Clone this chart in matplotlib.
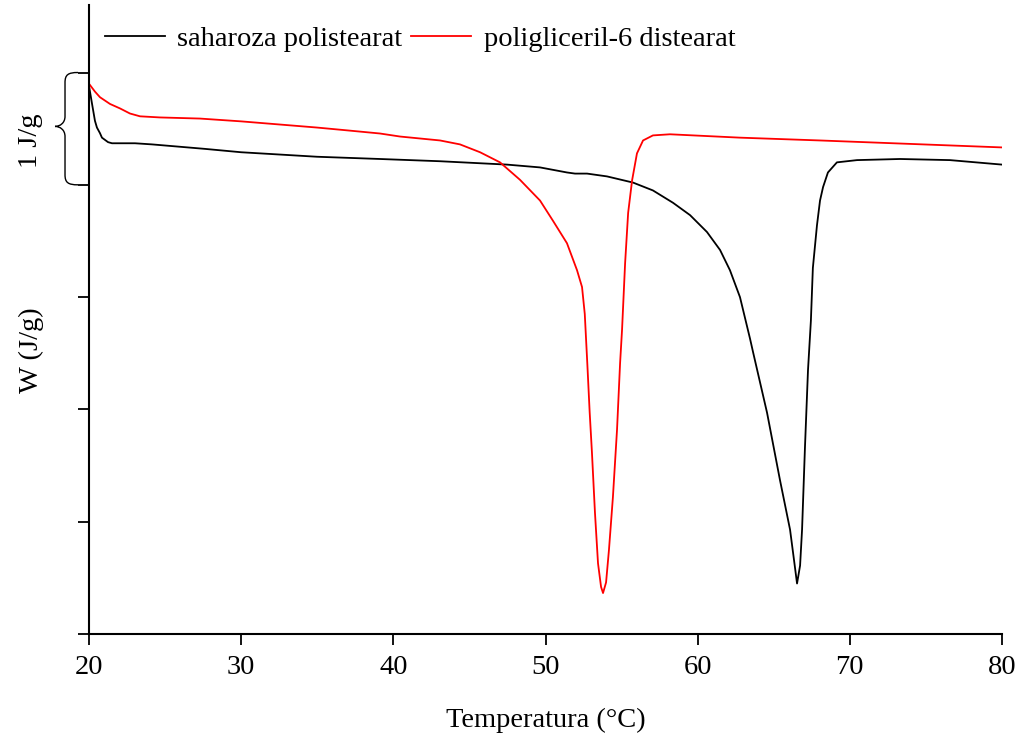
import matplotlib.pyplot as plt
import matplotlib.transforms as mtransforms
from matplotlib.path import Path
from matplotlib.patches import PathPatch

plt.rcParams['font.family'] = ['Liberation Serif', 'DejaVu Serif']

# saharoza polistearat (black)
t_sah = [20.0, 20.20, 20.39, 20.52, 20.72, 20.85, 21.05, 21.25, 21.51, 23.02,
         24.14, 27.62, 30.0, 34.98, 39.12, 43.07, 47.47, 49.64, 51.41, 51.94,
         52.73, 54.04, 55.75, 57.06, 58.38, 59.50, 60.61, 61.47, 62.12, 62.78,
         63.44, 63.64, 64.56, 65.41, 66.07, 66.33, 66.53, 66.73, 66.86, 67.05,
         67.25, 67.44, 67.57, 67.84, 68.04, 68.24, 68.56, 69.15, 70.47, 73.3,
         76.58, 80.0]
w_sah = [4.88, 4.72, 4.57, 4.51, 4.46, 4.42, 4.40, 4.38, 4.37, 4.37,
         4.36, 4.32, 4.29, 4.25, 4.23, 4.21, 4.18, 4.155, 4.11, 4.10,
         4.10, 4.075, 4.02, 3.95, 3.84, 3.73, 3.58, 3.42, 3.24, 3.00,
         2.63, 2.51, 1.97, 1.37, 0.93, 0.66, 0.45, 0.61, 0.93, 1.66,
         2.35, 2.79, 3.26, 3.64, 3.86, 3.98, 4.11, 4.20, 4.22, 4.23,
         4.22, 4.18]

# poligliceril-6 distearat (red)
t_pg = [20.0, 20.39, 20.72, 21.38, 22.04, 22.69, 23.35, 24.66, 27.29, 30.0,
        34.98, 36.95, 39.12, 40.44, 43.07, 44.38, 45.70, 47.01, 48.32, 49.64,
        50.49, 51.41, 52.07, 52.40, 52.58, 52.75, 52.90, 53.05, 53.25, 53.45,
        53.65, 53.78, 53.98, 54.17, 54.43, 54.70, 54.90, 55.03, 55.23, 55.43,
        55.69, 56.01, 56.41, 57.06, 58.18, 62.78, 68.04, 80.0]
w_pg = [4.90, 4.83, 4.78, 4.72, 4.68, 4.635, 4.61, 4.60, 4.59, 4.565,
        4.51, 4.485, 4.457, 4.43, 4.395, 4.36, 4.29, 4.20, 4.045, 3.86,
        3.68, 3.48, 3.24, 3.09, 2.85, 2.40, 1.98, 1.62, 1.08, 0.63,
        0.42, 0.365, 0.46, 0.75, 1.22, 1.82, 2.41, 2.71, 3.30, 3.75,
        4.04, 4.28, 4.395, 4.44, 4.45, 4.42, 4.395, 4.333]

labels = ['saharoza polistearat', 'poligliceril-6 distearat']

fig = plt.figure(figsize=(10.15, 7.33), dpi=100)
ax = fig.add_axes([0.0877, 0.135, 0.8995, 0.858])

ax.plot(t_sah, w_sah, color='black', lw=1.3, label=labels[0])
ax.plot(t_pg, w_pg, color='#ff0000', lw=1.3, label=labels[1])

ax.set_xlim(20, 80)
ax.set_ylim(0, 5.6)
ax.set_xticks([20, 30, 40, 50, 60, 70, 80])
ax.set_yticks([0, 1, 2, 3, 4, 5])
ax.set_yticklabels([])
ax.spines['top'].set_visible(False)
ax.spines['right'].set_visible(False)
for s in ['left', 'bottom']:
    ax.spines[s].set_linewidth(1.5)
ax.tick_params(axis='both', direction='out', length=8, width=1.3, labelsize=20.5)
ax.tick_params(axis='x', pad=7)

ax.set_xlabel('Temperatura (°C)', fontsize=20.5, labelpad=20)
ax.set_ylabel('W (J/g)', fontsize=20.5)
ax.yaxis.set_label_coords(-0.049, 0.451)

# brace showing 1 J/g between y=4 and y=5
trans = mtransforms.blended_transform_factory(ax.transAxes, ax.transData)
def px(p):
    return (p - 89) / 913.0
y0, y1 = 4.0, 5.0
ym = (y0 + y1) / 2 + 0.02
verts = [(px(78), y1), (px(68), y1), (px(65), y1 - 0.02), (px(65), y1 - 0.09),
         (px(65), ym + 0.09),
         (px(65), ym + 0.03), (px(60), ym), (px(55), ym),
         (px(60), ym), (px(65), ym - 0.03), (px(65), ym - 0.09),
         (px(65), y0 + 0.09),
         (px(65), y0 + 0.02), (px(68), y0), (px(78), y0)]
codes = [Path.MOVETO, Path.CURVE4, Path.CURVE4, Path.CURVE4,
         Path.LINETO,
         Path.CURVE4, Path.CURVE4, Path.CURVE4,
         Path.CURVE4, Path.CURVE4, Path.CURVE4,
         Path.LINETO,
         Path.CURVE4, Path.CURVE4, Path.CURVE4]
brace = PathPatch(Path(verts, codes), transform=trans, fill=False,
                  lw=1.0, color='black', clip_on=False)
ax.add_patch(brace)
ax.text(px(30), ym - 0.13, '1 J/g', transform=trans, rotation=90, fontsize=20.5,
        ha='center', va='center')

ax.legend(loc='upper left', bbox_to_anchor=(-0.006, 1.0), ncol=2, frameon=False,
          fontsize=20.5, handlelength=2.1, columnspacing=0.3, handletextpad=0.45,
          borderaxespad=0.35)

fig.savefig('out.png', dpi=100)
